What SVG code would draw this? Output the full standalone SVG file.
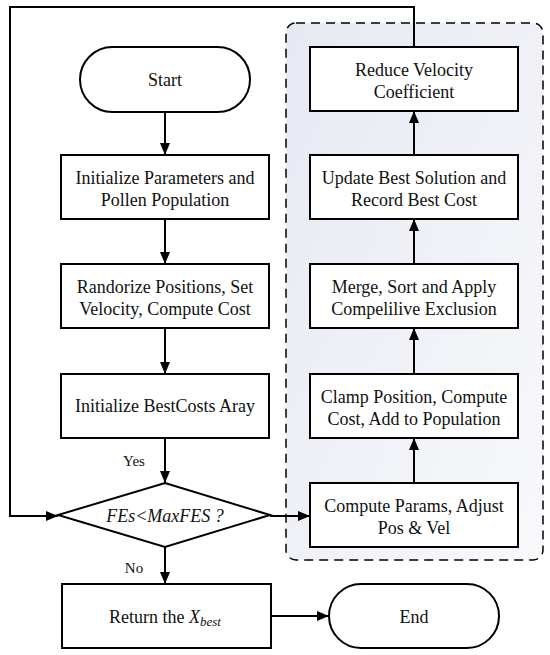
<svg xmlns="http://www.w3.org/2000/svg" width="550" height="655" viewBox="0 0 550 655">
<defs>
<linearGradient id="bg" x1="0" y1="0" x2="1" y2="1">
<stop offset="0" stop-color="#e6e9f2"/>
<stop offset="1" stop-color="#f8f9fb"/>
</linearGradient>
<marker id="ah" viewBox="0 0 12 10" refX="12" refY="5" markerWidth="12" markerHeight="10" markerUnits="userSpaceOnUse" orient="auto">
<path d="M0,0 L12,5 L0,10 Z" fill="#000"/>
</marker>
</defs>
<style>
.box{fill:#fff;stroke:#000;stroke-width:2}
.t{font-size:18px;fill:#111;text-anchor:middle}
.s{font-size:15px;fill:#111;text-anchor:middle}
.c{fill:none;stroke:#000;stroke-width:2}
</style>
<g>
<rect id="group" x="286" y="23" width="257" height="537" rx="10" fill="url(#bg)" stroke="#000" stroke-width="1.5" stroke-dasharray="9,6"/>
<g id="connectors">
<line class="c" x1="165" y1="112" x2="165" y2="155" marker-end="url(#ah)"/>
<line class="c" x1="165" y1="219" x2="165" y2="264" marker-end="url(#ah)"/>
<line class="c" x1="165" y1="328" x2="165" y2="374" marker-end="url(#ah)"/>
<line class="c" x1="165" y1="438" x2="165" y2="483" marker-end="url(#ah)"/>
<line class="c" x1="165" y1="547" x2="165" y2="584" marker-end="url(#ah)"/>
<line class="c" x1="271" y1="616" x2="329" y2="616" marker-end="url(#ah)"/>
<line class="c" x1="270" y1="516" x2="310" y2="516" marker-end="url(#ah)"/>
<line class="c" x1="414" y1="483" x2="414" y2="438" marker-end="url(#ah)"/>
<line class="c" x1="414" y1="374" x2="414" y2="328" marker-end="url(#ah)"/>
<line class="c" x1="414" y1="264" x2="414" y2="219" marker-end="url(#ah)"/>
<line class="c" x1="414" y1="155" x2="414" y2="111" marker-end="url(#ah)"/>
<polyline class="c" points="414,47 414,7 10,7 10,516 58,516" marker-end="url(#ah)"/>
<text class="s" x="134" y="466" font-family="Liberation Serif">Yes</text>
<text class="s" x="134" y="573" font-family="Liberation Serif">No</text>
</g>
<g id="start">
<rect class="box" x="80" y="47" width="170" height="65" rx="32.5"/>
<text class="t" x="165" y="86" font-family="Liberation Serif">Start</text>
</g>
<g id="init">
<rect class="box" x="61" y="155" width="208" height="64"/>
<text class="t" x="165" y="184" font-family="Liberation Serif">Initialize Parameters and</text>
<text class="t" x="165" y="206" font-family="Liberation Serif">Pollen Population</text>
</g>
<g id="random">
<rect class="box" x="61" y="264" width="208" height="64"/>
<text class="t" x="165" y="293" font-family="Liberation Serif">Randorize Positions, Set</text>
<text class="t" x="165" y="315" font-family="Liberation Serif">Velocity, Compute Cost</text>
</g>
<g id="bestcosts">
<rect class="box" x="61" y="374" width="208" height="64"/>
<text class="t" x="165" y="412" font-family="Liberation Serif">Initialize BestCosts Aray</text>
</g>
<g id="decision">
<polygon class="box" points="165,483 270,515 165,547 58,515"/>
<text class="t" x="165" y="522" font-style="italic" font-family="Liberation Serif">FEs&lt;MaxFES ?</text>
</g>
<g id="return">
<rect class="box" x="62" y="584" width="209" height="64"/>
<text class="t" x="165" y="623" font-family="Liberation Serif">Return the <tspan font-style="italic">X</tspan><tspan font-style="italic" font-size="13" dy="3">best</tspan></text>
</g>
<g id="end">
<rect class="box" x="329" y="584" width="170" height="64" rx="32"/>
<text class="t" x="414" y="623" font-family="Liberation Serif">End</text>
</g>
<g id="compute">
<rect class="box" x="310" y="483" width="208" height="64"/>
<text class="t" x="414" y="512" font-family="Liberation Serif">Compute Params, Adjust</text>
<text class="t" x="414" y="534" font-family="Liberation Serif">Pos &amp; Vel</text>
</g>
<g id="clamp">
<rect class="box" x="310" y="374" width="208" height="64"/>
<text class="t" x="414" y="403" font-family="Liberation Serif">Clamp Position, Compute</text>
<text class="t" x="414" y="425" font-family="Liberation Serif">Cost, Add to Population</text>
</g>
<g id="merge">
<rect class="box" x="310" y="264" width="208" height="64"/>
<text class="t" x="414" y="293" font-family="Liberation Serif">Merge, Sort and Apply</text>
<text class="t" x="414" y="315" font-family="Liberation Serif">Compelilive Exclusion</text>
</g>
<g id="update">
<rect class="box" x="310" y="155" width="208" height="64"/>
<text class="t" x="414" y="184" font-family="Liberation Serif">Update Best Solution and</text>
<text class="t" x="414" y="206" font-family="Liberation Serif">Record Best Cost</text>
</g>
<g id="reduce">
<rect class="box" x="310" y="47" width="208" height="64"/>
<text class="t" x="414" y="76" font-family="Liberation Serif">Reduce Velocity</text>
<text class="t" x="414" y="98" font-family="Liberation Serif">Coefficient</text>
</g>
</g>
</svg>
